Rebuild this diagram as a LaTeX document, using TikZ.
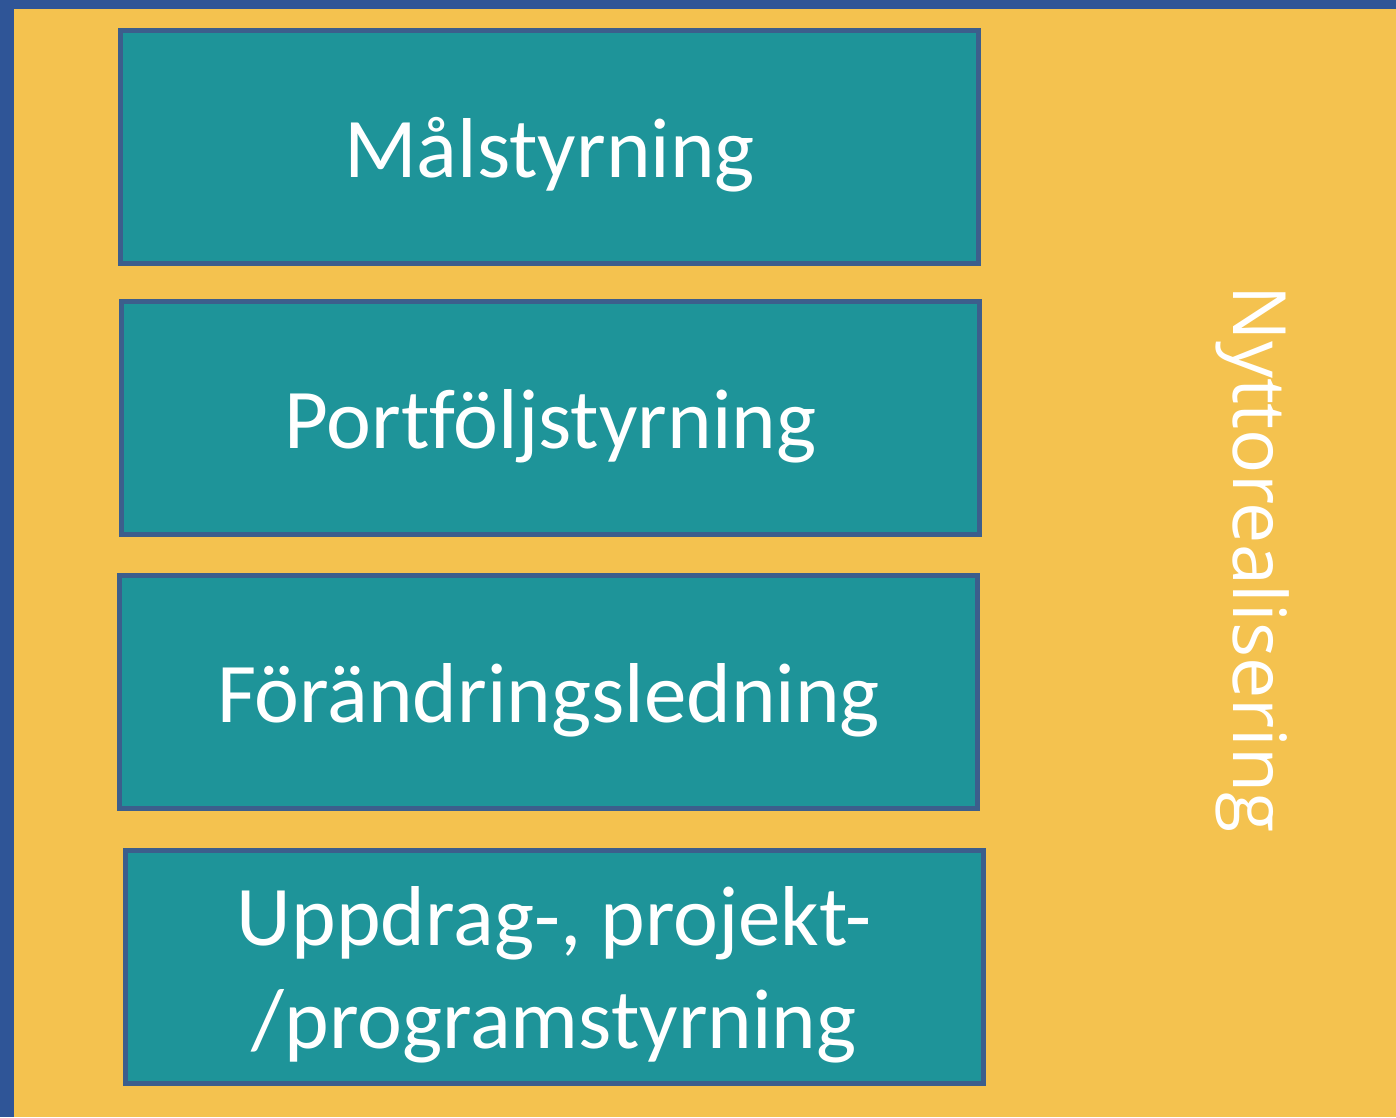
\documentclass[tikz,border=0pt]{standalone}
\usepackage{fontspec}
\setmainfont[Ligatures=NoCommon]{Carlito}
\newfontfamily\sidefont{Open Sans}
\definecolor{frameblue}{HTML}{2F5597}
\definecolor{bgyellow}{HTML}{F4C24F}
\definecolor{boxteal}{HTML}{1E9499}
\definecolor{boxline}{HTML}{3C5E8C}
\newcommand{\lvltext}[1]{\begin{tabular}{@{}c@{}}#1\end{tabular}}
\tikzset{level/.style={draw=boxline,line width=5pt,fill=boxteal,rectangle,text=white,text centered,minimum width=858pt,minimum height=233pt,inner sep=0pt,text height=33pt,text depth=0pt,font=\fontsize{85}{103}\selectfont}}

\begin{document}
\begin{tikzpicture}[x=1pt,y=-1pt]
		\useasboundingbox (0,0) rectangle (1396,1117);
		\fill[frameblue] (0,0) rectangle (1396,1117);
		\fill[bgyellow] (14,9) rectangle (1396,1117);
		\node[level](mal) at (549.5,147) {\lvltext{Målstyrning}};
		\node[level](portfolj) at (550.5,418) {\lvltext{Portföljstyrning}};
		\node[level](forandring) at (548.5,691.5) {\lvltext{Förändringsledning}};
		\node[level](uppdrag) at (554,966.5) {\lvltext{Uppdrag-, projekt-\\/programstyrning}};
		\node[rotate=-90,text=white,font=\sidefont\fontsize{73.5}{90}\selectfont](nytto) at (1253,559) {Nyttorealisering};
		\end{tikzpicture}
\end{document}
